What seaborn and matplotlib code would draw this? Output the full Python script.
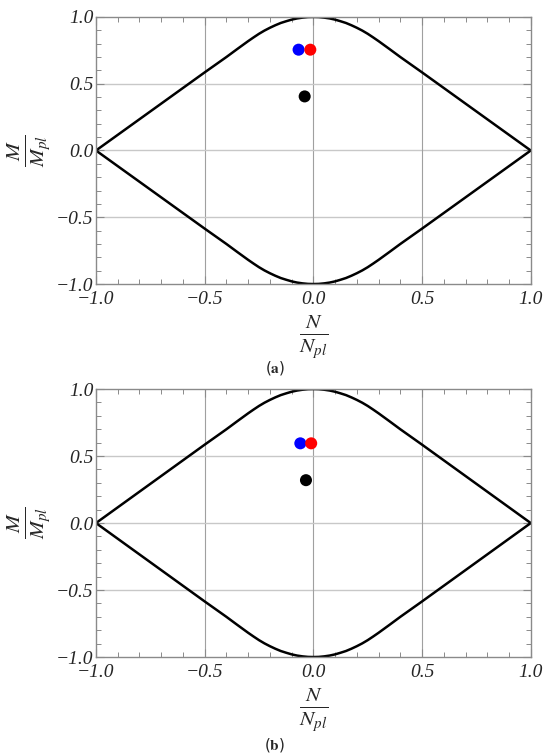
import numpy as np
import pandas as pd
import matplotlib
matplotlib.use("Agg")
import matplotlib.pyplot as plt
from matplotlib.ticker import MultipleLocator
import seaborn as sns

# interaction curve (same in both panels)
n_curve = [-1.0, -0.9, -0.8, -0.7, -0.6, -0.5, -0.4, -0.35, -0.3, -0.275, -0.25, -0.225, -0.2,
           -0.175, -0.15, -0.125, -0.1, -0.075, -0.05, -0.025,
           0.0, 0.025, 0.05, 0.075, 0.1, 0.125, 0.15, 0.175, 0.2, 0.225, 0.25, 0.275, 0.3,
           0.35, 0.4, 0.5, 0.6, 0.7, 0.8, 0.9, 1.0]
m_upper = [0.0, 0.117, 0.234, 0.351, 0.468, 0.585, 0.70, 0.760, 0.819, 0.847, 0.874, 0.898, 0.919,
           0.938, 0.955, 0.968, 0.980, 0.989, 0.995, 0.999,
           1.0, 0.999, 0.995, 0.989, 0.980, 0.968, 0.955, 0.938, 0.919, 0.898, 0.874, 0.847, 0.819,
           0.760, 0.70, 0.585, 0.468, 0.351, 0.234, 0.117, 0.0]
m_lower = [0.0, -0.117, -0.234, -0.351, -0.468, -0.585, -0.70, -0.760, -0.819, -0.847, -0.874, -0.898, -0.919,
           -0.938, -0.955, -0.968, -0.980, -0.989, -0.995, -0.999,
           -1.0, -0.999, -0.995, -0.989, -0.980, -0.968, -0.955, -0.938, -0.919, -0.898, -0.874, -0.847, -0.819,
           -0.760, -0.70, -0.585, -0.468, -0.351, -0.234, -0.117, 0.0]

# load points (blue, red, black)
point_colors = ["#0000ff", "#ff0000", "#000000"]
n_pts_a = [-0.068, -0.014, -0.040]
m_pts_a = [0.755, 0.755, 0.405]
n_pts_b = [-0.060, -0.010, -0.034]
m_pts_b = [0.595, 0.595, 0.32]

captions = ["a", "b"]
tick_vals = [-1.0, -0.5, 0.0, 0.5, 1.0]
tick_text = ["\u22121.0", "\u22120.5", "0.0", "0.5", "1.0"]

sns.set_style("white")
plt.rcParams["font.family"] = ["Liberation Serif", "DejaVu Serif"]
plt.rcParams["mathtext.fontset"] = "stix"

fig = plt.figure(figsize=(5.5, 7.54), dpi=100)
ax_a = fig.add_axes([0.1745, 0.6233, 0.7905, 0.3542])
ax_b = fig.add_axes([0.1745, 0.1286, 0.7905, 0.3554])

frame = "#8a8a8a"
for ax, n_pts, m_pts, cap in [(ax_a, n_pts_a, m_pts_a, captions[0]),
                              (ax_b, n_pts_b, m_pts_b, captions[1])]:
    # grid lines at the major ticks
    for v in [-0.5, 0.0, 0.5]:
        ax.axvline(v, color="#a0a0a0", lw=0.8, zorder=0)
        ax.axhline(v, color="#c8c8c8", lw=1.0, zorder=0)

    curve = pd.DataFrame({"N": n_curve, "up": m_upper, "low": m_lower})
    sns.lineplot(data=curve, x="N", y="up", sort=False, color="black", lw=1.8, ax=ax)
    sns.lineplot(data=curve, x="N", y="low", sort=False, color="black", lw=1.8, ax=ax)

    pts = pd.DataFrame({"N": n_pts, "M": m_pts, "c": point_colors})
    sns.scatterplot(data=pts, x="N", y="M", hue="c", palette={c: c for c in point_colors},
                    s=75, edgecolor="none", legend=False, ax=ax, zorder=5)

    ax.set_xlim(-1, 1)
    ax.set_ylim(-1, 1)
    ax.set_xticks(tick_vals)
    ax.set_yticks(tick_vals)
    ax.set_xticklabels(tick_text, style="italic")
    ax.set_yticklabels(tick_text, style="italic")
    ax.xaxis.set_minor_locator(MultipleLocator(0.1))
    ax.yaxis.set_minor_locator(MultipleLocator(0.1))
    ax.tick_params(which="both", direction="in", bottom=True, left=True, top=True, right=True,
                   color=frame)
    ax.tick_params(which="major", length=6, width=0.8, labelsize=14)
    ax.tick_params(axis="x", which="major", pad=5)
    ax.tick_params(axis="y", which="major", pad=2)
    ax.tick_params(which="minor", length=3.5, width=0.7)
    for s in ax.spines.values():
        s.set_color(frame)
        s.set_linewidth(1.0)

    ax.set_xlabel(r"$\frac{N}{N_{pl}}$", fontsize=22, labelpad=3)
    ax.set_ylabel(r"$\frac{M}{M_{pl}}$", fontsize=22, labelpad=2)

fig.text(0.5, 0.512, r"($\mathbf{a}$)", ha="center", va="center", fontsize=11, family="DejaVu Sans")
fig.text(0.5, 0.012, r"($\mathbf{b}$)", ha="center", va="center", fontsize=11, family="DejaVu Sans")

fig.savefig("out.png", dpi=100)
